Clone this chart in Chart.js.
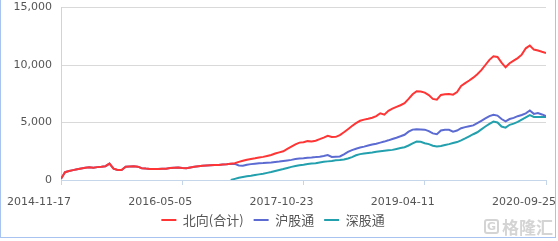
<!DOCTYPE html>
<html><head><meta charset="utf-8">
<script src="https://cdn.jsdelivr.net/npm/chart.js@4/dist/chart.umd.min.js"></script>
<style>
html,body{margin:0;padding:0;background:#fff;}
#wrap{position:relative;width:558px;height:241px;overflow:hidden;}
#frame{position:absolute;left:0;top:-4px;width:554px;height:240px;border:1px solid #a9c3f1;pointer-events:none;}
#wm{position:absolute;left:484px;top:214px;color:#d4d4d4;font:bold 17px "Noto Sans CJK SC";display:flex;align-items:center;gap:3px;}
#wm .ic{width:15px;height:15px;border:2px solid #d4d4d4;border-radius:3px;box-sizing:border-box;font:bold 11px "DejaVu Sans";display:flex;align-items:center;justify-content:center;}
</style></head>
<body><div id="wrap"><canvas id="c" width="558" height="241"></canvas><div id="frame"></div>
<div id="wm"><span class="ic">G</span><span>格隆汇</span></div></div>
<script>
const tickLabels = ["2014-11-17","2016-05-05","2017-10-23","2019-04-11","2020-09-25"];
const seriesNames = ["北向(合计)","沪股通","深股通"];
const northbound = [100,680,780,860,930,1000,1060,1100,1060,1120,1150,1200,1420,980,880,870,1150,1180,1190,1160,
1030,990,960,950,960,970,980,1040,1070,1090,1050,1030,1090,1150,1190,1230,1260,1280,1300,1310,
1350,1380,1420,1460,1580,1680,1760,1830,1890,1960,2010,2090,2170,2300,2400,2500,2700,2900,3100,3250,
3280,3380,3350,3420,3550,3690,3840,3740,3750,3900,4150,4420,4700,4950,5150,5250,5330,5420,5550,5800,
5680,6020,6200,6360,6500,6680,7050,7450,7720,7700,7600,7380,7050,6980,7400,7460,7480,7420,7650,8180,
8420,8650,8900,9200,9550,10000,10450,10760,10700,10200,9800,10150,10380,10600,10900,11450,11700,11340,11260,11150,11050];
const shanghai = [100,680,780,860,930,1000,1060,1100,1060,1120,1150,1200,1420,980,880,870,1150,1180,1190,1160,
1030,990,960,950,960,970,980,1040,1070,1090,1050,1030,1090,1150,1190,1230,1260,1280,1300,1310,
1350,1380,1420,1400,1260,1250,1330,1380,1420,1450,1470,1500,1530,1570,1600,1650,1700,1750,1820,1870,
1890,1940,1960,1990,2030,2080,2170,2000,2030,2050,2230,2450,2600,2720,2820,2900,3000,3080,3160,3250,
3340,3450,3570,3680,3800,3930,4200,4380,4420,4400,4380,4250,4050,3980,4300,4360,4360,4200,4300,4500,
4600,4680,4750,4950,5150,5350,5550,5670,5600,5300,5100,5300,5400,5550,5650,5800,6050,5750,5820,5700,5550];
const shenzhen = [null,null,null,null,null,null,null,null,null,null,null,null,null,null,null,null,null,null,null,null,
null,null,null,null,null,null,null,null,null,null,null,null,null,null,null,null,null,null,null,null,
null,null,0,100,200,260,320,370,430,490,550,620,690,780,870,950,1050,1140,1220,1280,
1330,1390,1430,1460,1520,1580,1620,1660,1710,1730,1790,1870,1990,2150,2250,2300,2350,2390,2450,2500,
2540,2580,2620,2700,2780,2850,3000,3180,3340,3320,3200,3120,2980,2910,2960,3050,3120,3220,3300,3450,
3620,3800,3980,4150,4400,4650,4880,5080,5000,4650,4550,4800,4900,5050,5250,5450,5650,5480,5470,5470,5470];

const toPts = arr => arr.map((y,i)=>({x:i,y}));
const colors = ["#ff3535","#5b6bd2","#22a0ad"];
const seriesData = [northbound, shanghai, shenzhen];
const datasets = seriesData.map((d,k)=>({
  label: seriesNames[k], data: toPts(d), borderColor: colors[k], backgroundColor: colors[k],
  borderWidth: 2, pointRadius: 0, tension: 0, order: k, spanGaps:false
}));

const LEGEND_UP = 16.7;
const legendShift = {
  id:'legendShift',
  afterLayout(chart){
    const lg = chart.legend;
    if (lg){ lg.top -= LEGEND_UP; lg.bottom -= LEGEND_UP; }
  }
};

new Chart(document.getElementById('c'), {
  type: 'line',
  data: { datasets },
  plugins:[legendShift],
  options: {
    responsive:false, animation:false,
    layout:{ padding:{ top:7.5, right:12, left:0, bottom:-12.2 } },
    plugins:{
      tooltip:{enabled:false},
      legend:{ position:'bottom',
        labels:{ usePointStyle:true, pointStyle:'line', pointStyleWidth:15, boxHeight:13,
          color:'#555', padding:10, font:{ family:'"Noto Sans CJK SC"', size:13 } } }
    },
    scales:{
      x:{ type:'linear', min:0, max:northbound.length-1,
        afterFit: s => { s.paddingLeft = 0; s.paddingRight = 0; },
        grid:{ drawOnChartArea:false, drawTicks:true, tickLength:5, color:'#c5d5ea' },
        border:{ color:'#c5d5ea' },
        ticks:{ stepSize:30, autoSkip:false, maxRotation:0, labelOffset:-22, padding:11,
          color:'#555', font:{ family:'"DejaVu Sans"', size:11 },
          callback: v => tickLabels[v/30] } },
      y:{ min:0, max:15000,
        afterFit: s => { s.width = 61; s.paddingTop = 0; s.paddingBottom = 0; },
        grid:{ drawTicks:false, color: c => c.tick && c.tick.value===0 ? 'rgba(0,0,0,0)' : '#d9d9d9' },
        border:{ color:'#c5d5ea' },
        ticks:{ stepSize:5000, padding:9, color:'#555', font:{ family:'"DejaVu Sans"', size:11 },
          callback: v => v.toLocaleString('en-US') } }
    }
  }
});
</script></body></html>
